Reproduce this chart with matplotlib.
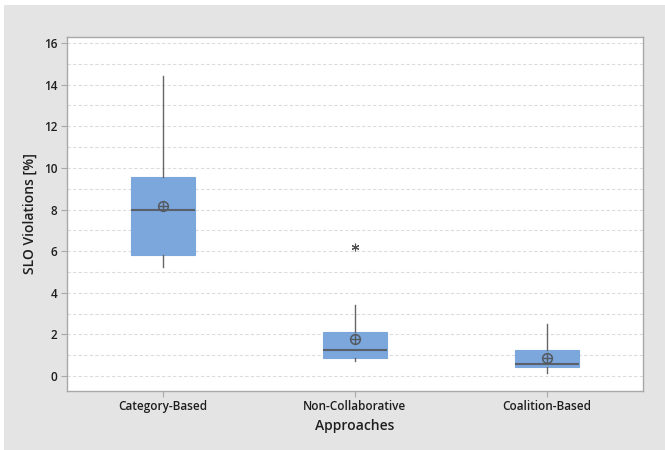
import matplotlib
matplotlib.use("Agg")
import matplotlib.pyplot as plt
from matplotlib.patches import Rectangle
from matplotlib.ticker import MultipleLocator

# Summary statistics of SLO violations per approach
categories = ["Category-Based", "Non-Collaborative", "Coalition-Based"]
q1 = [5.82, 0.88, 0.42]
medians = [7.97, 1.25, 0.58]
q3 = [9.55, 2.11, 1.25]
whisker_low = [5.25, 0.72, 0.13]
whisker_high = [14.4, 3.41, 2.48]
means = [8.16, 1.78, 0.85]
outliers = [[], [6.18], []]

yticks = [0, 2, 4, 6, 8, 10, 12, 14, 16]

plt.rcParams["font.family"] = ["Open Sans", "DejaVu Sans"]

fig = plt.figure(figsize=(6.65, 4.5), dpi=100)
fig.patch.set_facecolor("white")
fig.patches.append(Rectangle((4 / 665, 0), 1, (450 - 5) / 450, transform=fig.transFigure,
                             facecolor="#e4e4e4", edgecolor="none", zorder=-10))

ax = fig.add_axes([67 / 665, (450 - 390.7) / 450, (643 - 67) / 665, (390.7 - 36.7) / 450])
ax.set_facecolor("white")

stats = []
for i, name in enumerate(categories):
    stats.append(dict(label=name, q1=q1[i], med=medians[i], q3=q3[i],
                      whislo=whisker_low[i], whishi=whisker_high[i],
                      mean=means[i], fliers=outliers[i]))

positions = list(range(1, len(categories) + 1))
ax.bxp(stats, positions=positions, widths=0.333, patch_artist=True,
       showcaps=False, showmeans=False, showfliers=False,
       boxprops=dict(facecolor="#7ba7dc", edgecolor="#7ba7dc", linewidth=0.8),
       medianprops=dict(color="#5a6069", linewidth=1.5),
       whiskerprops=dict(color="#666666", linewidth=1.0),
       zorder=3)

# Mean symbols (circle with cross)
ax.plot(positions, means, linestyle="none", marker="o", markersize=7,
        markerfacecolor="none", markeredgecolor="#555a60", markeredgewidth=1.1, zorder=4)
ax.plot(positions, means, linestyle="none", marker="+", markersize=7,
        markeredgecolor="#555a60", markeredgewidth=1.0, zorder=4)

# Outliers
for pos, vals in zip(positions, outliers):
    if vals:
        ax.plot([pos] * len(vals), vals, linestyle="none", marker=(6, 2, 0),
                markersize=5.5, markeredgecolor="#505050", markeredgewidth=0.8, zorder=4)

ax.set_xlim(0.5, 3.5)
ax.set_ylim(-0.7, 16.3)
ax.set_yticks(yticks)
ax.yaxis.set_minor_locator(MultipleLocator(1))
ax.set_xticks(positions)
ax.set_xticklabels(categories)

ax.grid(axis="y", which="both", color="#dcdcdc", linestyle=(0, (3, 2)), linewidth=0.8, zorder=0)
ax.set_axisbelow(True)

for s in ax.spines.values():
    s.set_color("#a8a8a8")
    s.set_linewidth(1.0)

ax.tick_params(axis="both", which="major", length=4, color="#a8a8a8", width=0.8,
               labelsize=8.5, labelcolor="#1e1e1e", pad=3)
ax.tick_params(axis="y", which="minor", length=0)
for lbl in ax.get_xticklabels() + ax.get_yticklabels():
    lbl.set_fontweight("semibold")

ax.set_ylabel("SLO Violations [%]", fontsize=10, fontweight="semibold", color="#1e1e1e", labelpad=5)
ax.set_xlabel("Approaches", fontsize=10, fontweight="semibold", color="#1e1e1e", labelpad=4)

fig.savefig("out.png", dpi=100, facecolor=fig.get_facecolor())
